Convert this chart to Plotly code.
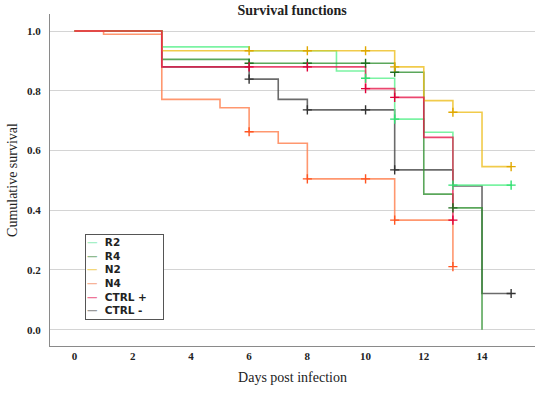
import numpy as np
import plotly.graph_objects as go

# ---- data ----
series_names = ["R2", "R4", "N2", "N4", "CTRL +", "CTRL -"]

r2_t = [0, 3, 6, 9, 10, 11, 12, 13, 15]
r2_s = [1.0, 0.947, 0.934, 0.866, 0.842, 0.705, 0.661, 0.484, 0.484]
r2_cens = [10, 11, 13, 15]

r4_t = [0, 3, 6, 11, 12, 13, 14]
r4_s = [1.0, 0.905, 0.892, 0.862, 0.454, 0.408, 0.0]
r4_cens = [6, 8, 10, 11, 13]

n2_t = [0, 3, 11, 12, 13, 14, 15]
n2_s = [1.0, 0.934, 0.880, 0.767, 0.728, 0.546, 0.546]
n2_cens = [6, 8, 10, 11, 13, 15]

n4_t = [0, 1, 3, 5, 6, 7, 8, 11, 13]
n4_s = [1.0, 0.989, 0.771, 0.743, 0.663, 0.624, 0.505, 0.367, 0.211]
n4_cens = [6, 8, 10, 11, 13]

cp_t = [0, 3, 10, 11, 12, 13]
cp_s = [1.0, 0.880, 0.807, 0.778, 0.644, 0.367]
cp_cens = [6, 8, 10, 11, 13]

cm_t = [0, 3, 6, 7, 8, 11, 13, 14, 15]
cm_s = [1.0, 0.880, 0.839, 0.771, 0.736, 0.535, 0.481, 0.121, 0.121]
cm_cens = [6, 8, 10, 11, 15]

x_ticks = [0, 2, 4, 6, 8, 10, 12, 14]
y_ticks = [0.0, 0.2, 0.4, 0.6, 0.8, 1.0]

# ---- styles ----
line_colors = {
    "R2": "rgba(90,240,140,0.8)",
    "R4": "rgba(50,145,50,0.8)",
    "N2": "rgba(238,190,30,0.8)",
    "N4": "rgba(255,125,75,0.8)",
    "CTRL +": "rgba(230,25,75,0.8)",
    "CTRL -": "rgba(70,70,70,0.8)",
}
mark_colors = {
    "R2": "#2fe070",
    "R4": "#1f6e1f",
    "N2": "#e0a800",
    "N4": "#ff5522",
    "CTRL +": "#e0003a",
    "CTRL -": "#333333",
}
legend_colors = {
    "R2": "#a6f0c6",
    "R4": "#8fba8f",
    "N2": "#f3d77a",
    "N4": "#f7b398",
    "CTRL +": "#ee7597",
    "CTRL -": "#9a9a9a",
}

data = {
    "R2": (r2_t, r2_s, r2_cens),
    "R4": (r4_t, r4_s, r4_cens),
    "N2": (n2_t, n2_s, n2_cens),
    "N4": (n4_t, n4_s, n4_cens),
    "CTRL +": (cp_t, cp_s, cp_cens),
    "CTRL -": (cm_t, cm_s, cm_cens),
}

def step_value(t, s, q):
    t = np.asarray(t, dtype=float)
    s = np.asarray(s, dtype=float)
    idx = np.searchsorted(t, np.asarray(q, dtype=float), side="right") - 1
    return s[np.clip(idx, 0, len(s) - 1)]

fig = go.Figure()
draw_order = ["CTRL -", "R2", "R4", "N2", "N4", "CTRL +"]
for name in draw_order:
    t, s, cens = data[name]
    fig.add_trace(go.Scatter(
        x=t, y=s, mode="lines", line=dict(shape="hv", color=line_colors[name], width=1.6),
        name=name, showlegend=False, hoverinfo="skip"))
for name in draw_order:
    t, s, cens = data[name]
    fig.add_trace(go.Scatter(
        x=cens, y=step_value(t, s, cens), mode="markers",
        marker=dict(symbol="cross-thin", size=6.5, line=dict(color=mark_colors[name], width=1.4)),
        showlegend=False, hoverinfo="skip"))

# custom legend (compact, like the reference)
legend_lines = [
    f"<span style='color:{legend_colors[n]}'>—</span>  {n}" for n in series_names
]
fig.add_annotation(
    xref="paper", yref="paper", x=0.072, y=0.337, xanchor="left", yanchor="top",
    text="<br>".join(legend_lines), align="left", showarrow=False,
    font=dict(family="DejaVu Sans", size=10.5, color="#222222", weight="bold"),
    bordercolor="#555555", borderwidth=1, borderpad=1, bgcolor="white",
    width=75, height=82, valign="top",
)

serif = "Liberation Serif"
fig.update_layout(
    width=543, height=393,
    margin=dict(l=50, r=8, t=14, b=47),
    paper_bgcolor="white", plot_bgcolor="white",
    title=dict(text="<b>Survival functions</b>", x=0.538, xanchor="center",
               y=0.974, yanchor="middle", yref="container",
               font=dict(family=serif, size=14, color="#222222")),
    xaxis=dict(range=[-0.84, 15.82], tickvals=x_ticks, showgrid=False, zeroline=False,
               showline=True, linecolor="#8a8a8a", linewidth=1.2, ticks="",
               automargin=False,
               tickfont=dict(family=serif, size=11, color="#222222", weight="bold"),
               title=dict(text="Days post infection", standoff=10,
                          font=dict(family=serif, size=14, color="#222222"))),
    yaxis=dict(range=[-0.0546, 1.057], tickvals=y_ticks, tickformat=".1f",
               showgrid=True, gridcolor="#d4d4d4", gridwidth=1.3, zeroline=False,
               showline=True, linecolor="#8a8a8a", linewidth=1.2, ticks="",
               automargin=False, ticklabelstandoff=6,
               tickfont=dict(family=serif, size=11, color="#222222", weight="bold"),
               title=dict(text="Cumulative survival", standoff=6,
                          font=dict(family=serif, size=14, color="#222222"))),
)

fig.write_html("out.html", config={"displayModeBar": False},
               post_script="document.body.style.margin='0';")
